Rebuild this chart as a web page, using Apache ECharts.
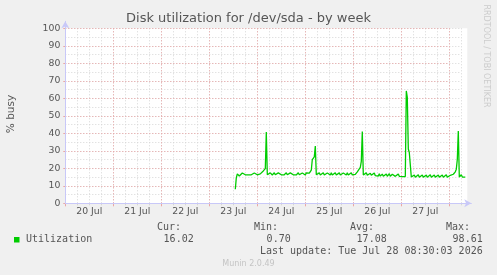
<!DOCTYPE html>
<html><head><meta charset="utf-8">
<script src="https://cdn.jsdelivr.net/npm/echarts@6/dist/echarts.min.js"></script>
<style>html,body{margin:0;padding:0;background:#f0f0f0}#c{width:497px;height:275px}</style>
</head><body><div id="c"></div>
<script>
// ---- data ----
const titleText = 'Disk utilization for /dev/sda - by week';
const yAxisName = '% busy';
const dayLabels = ['20 Jul','21 Jul','22 Jul','23 Jul','24 Jul','25 Jul','26 Jul','27 Jul'];
// hours since 20 Jul 00:00; one sample every 30 minutes
const startHour = 85;
const stepHours = 0.5;
const utilization = [
 8.0,14.5,16.8,16.5,15.6,16.4,16.3,17.3,16.3,16.3,16.3,17.3,16.3,16.3,16.3,17.3,16.3,16.3,16.3,17.3,
 16.3,16.3,16.3,17.3,16.3,16.8,17.8,17.0,18.5,17.8,19.8,40.7,16.3,16.3,16.3,17.4,16.3,16.2,16.3,17.5,
 16.3,16.3,16.2,17.4,16.3,16.3,16.3,17.3,16.2,16.3,16.3,17.5,16.3,16.3,16.2,17.4,16.3,16.3,16.3,17.4,
 16.3,16.2,16.3,17.5,16.3,16.3,16.3,17.3,16.3,16.3,16.2,17.4,16.3,16.5,17.2,17.8,19.0,25.0,25.5,26.5,
 32.7,16.3,16.2,16.2,17.4,16.2,16.2,16.2,17.5,16.2,16.2,16.2,17.3,16.2,16.2,16.2,17.4,16.2,16.2,16.2,
 17.5,16.2,16.2,16.2,17.4,16.2,16.2,16.2,17.3,16.2,16.2,16.2,17.4,16.2,16.2,16.2,17.5,16.2,16.3,17.0,
 16.5,17.5,18.0,18.2,19.0,20.5,24.0,41.0,16.2,16.0,16.0,17.4,16.0,16.0,16.0,17.2,16.0,15.8,15.9,17.3,
 15.8,15.8,16.8,15.6,16.9,15.5,15.5,16.7,15.4,15.4,15.5,16.8,15.4,15.4,16.9,15.4,15.5,16.6,15.5,16.9,
 15.4,15.4,15.5,16.8,15.4,15.4,16.5,15.3,15.3,15.3,15.3,64.2,60.5,31.0,29.0,28.5,15.0,14.9,14.9,16.2,
 14.9,14.9,14.9,16.3,14.9,14.9,14.9,16.2,14.9,14.9,14.9,16.1,14.9,14.9,14.9,16.3,14.9,14.9,14.9,16.2,
 14.9,14.9,14.9,16.2,14.9,14.9,14.9,16.2,14.9,14.9,14.9,16.3,14.9,14.9,15.0,16.0,15.0,15.5,16.6,16.0,
 18.0,19.5,25.0,41.3,15.0,15.0,16.3,15.0,15.0,15.0,15.0
];
const legendName = 'Utilization';
const statNames = ['Cur:','Min:','Avg:','Max:'];
const statValues = ['16.02','0.70','17.08','98.61'];
const lastUpdate = 'Last update: Tue Jul 28 08:30:03 2026';
const footer = 'Munin 2.0.49';
const sideText = 'RRDTOOL / TOBI OETIKER';

// ---- layout ----
const L = 65.3, T = 28.3, H = 175, PXH = 2; // px per hour
const FULL_H = 201, MINOR_H = 198, MAJOR_H = 192;
const gray = '#d6d6d6', red = '#eaa6a6', axisCol = '#c8c8f8', txt = '#555';
const sans = 'DejaVu Sans', mono = 'DejaVu Sans Mono';

const seriesData = utilization.map((v, i) => [startHour + i * stepHours, v]);

const chart = echarts.init(document.getElementById('c'), null, {renderer: 'canvas'});
const g = (w, top, h) => ({left: L, top: top, width: w, height: h, containLabel: false, outerBoundsMode: 'none', show: false});
const hidden = {axisLine:{show:false}, axisTick:{show:false}, axisLabel:{show:false}, splitLine:{show:false}};

const statGraphics = [];
const colLabelRight = [181, 278, 374, 470];
const colValueRight = [193.7, 290.7, 386.7, 482.7];
statNames.forEach((n, k) => {
  statGraphics.push({type:'text', x: colLabelRight[k], y: 227.5, style:{text:n, fill:txt, font:'10px "' + mono + '"', textAlign:'right', textVerticalAlign:'middle'}});
  statGraphics.push({type:'text', x: colValueRight[k], y: 239.5, style:{text:statValues[k], fill:txt, font:'10px "' + mono + '"', textAlign:'right', textVerticalAlign:'middle'}});
});

chart.setOption({
  animation: false,
  backgroundColor: '#f0f0f0',
  grid: [
    Object.assign(g(FULL_H*PXH, T, H), {show:true, backgroundColor:'#ffffff', borderWidth:0, z:0}),
    g(MINOR_H*PXH, T, H),
    g(MAJOR_H*PXH, T, H),
    g(MAJOR_H*PXH, T, H),
    g(FULL_H*PXH + 4, T - 7, H + 7)
  ],
  xAxis: [
    Object.assign({gridIndex:0, type:'value', min:0, max:FULL_H}, hidden),
    {gridIndex:1, type:'value', min:0, max:MINOR_H, interval:6, z:1,
     axisLine:{show:false}, axisLabel:{show:false},
     axisTick:{show:true, length:2, lineStyle:{color:gray}},
     splitLine:{show:true, lineStyle:{color:gray, width:1, type:[1,2]}}},
    {gridIndex:2, type:'value', min:0, max:MAJOR_H, interval:24, z:2,
     axisLine:{show:false}, axisLabel:{show:false},
     axisTick:{show:true, length:3, lineStyle:{color:red}},
     splitLine:{show:true, lineStyle:{color:red, width:1, type:[1,2]}}},
    {gridIndex:3, type:'value', min:0, max:MAJOR_H, interval:12, z:3,
     axisLine:{show:false}, axisTick:{show:false}, splitLine:{show:false},
     axisLabel:{show:true, margin:4, color:txt, fontSize:9.3, fontFamily:sans, showMinLabel:true, showMaxLabel:true,
       formatter: v => (v % 24 === 12) ? dayLabels[(v - 12) / 24] : ''}},
    {gridIndex:4, type:'value', min:0, max:1, z:4,
     axisTick:{show:false}, axisLabel:{show:false}, splitLine:{show:false},
     axisLine:{show:true, symbol:['none','arrow'], symbolSize:[6,7], lineStyle:{color:axisCol, width:1}}}
  ],
  yAxis: [
    Object.assign({gridIndex:0, type:'value', min:0, max:100}, hidden),
    {gridIndex:1, type:'value', min:0, max:100, interval:5, z:1,
     axisLine:{show:false}, axisLabel:{show:false}, axisTick:{show:false},
     splitLine:{show:true, lineStyle:{color:gray, width:1, type:[1,2]}}},
    {gridIndex:2, type:'value', min:0, max:100, interval:10, z:2,
     axisLine:{show:false},
     axisTick:{show:true, length:2, lineStyle:{color:red}},
     axisLabel:{show:true, margin:5, color:txt, fontSize:9.3, fontFamily:sans},
     splitLine:{show:true, lineStyle:{color:red, width:1, type:[1,2]}}},
    Object.assign({gridIndex:3, type:'value', min:0, max:100}, hidden),
    {gridIndex:4, type:'value', min:0, max:1, z:4,
     axisTick:{show:false}, axisLabel:{show:false}, splitLine:{show:false},
     axisLine:{show:true, symbol:['none','arrow'], symbolSize:[6,7], lineStyle:{color:axisCol, width:1}}}
  ],
  series: [{
    type:'line', xAxisIndex:0, yAxisIndex:0, data: seriesData, showSymbol:false, symbol:'none',
    lineStyle:{color:'#00cc00', width:1.3}, z:10, silent:true
  }],
  graphic: [
    {type:'text', x:248.5, y:19, style:{text:titleText, fill:txt, font:'13px "' + sans + '"', textAlign:'center', textVerticalAlign:'middle'}},
    {type:'text', x:11, y:114, rotation:Math.PI/2, style:{text:yAxisName, fill:txt, font:'10.5px "' + sans + '"', textAlign:'center', textVerticalAlign:'middle'}},
    {type:'text', x:486, y:56, rotation:-Math.PI/2, style:{text:sideText, fill:'#cccccc', font:'8px "' + sans + '"', textAlign:'center', textVerticalAlign:'middle'}},
    {type:'rect', shape:{x:14, y:237, width:5.5, height:5.5}, style:{fill:'#00cc00'}},
    {type:'text', x:26, y:239.5, style:{text:legendName, fill:txt, font:'10px "' + mono + '"', textAlign:'left', textVerticalAlign:'middle'}},
    ...statGraphics,
    {type:'text', x:482.7, y:251.8, style:{text:lastUpdate, fill:txt, font:'10px "' + mono + '"', textAlign:'right', textVerticalAlign:'middle'}},
    {type:'text', x:248.5, y:264, style:{text:footer, fill:'#c4c4c4', font:'8px "' + sans + '"', textAlign:'center', textVerticalAlign:'middle'}}
  ]
});
</script>
</body></html>
